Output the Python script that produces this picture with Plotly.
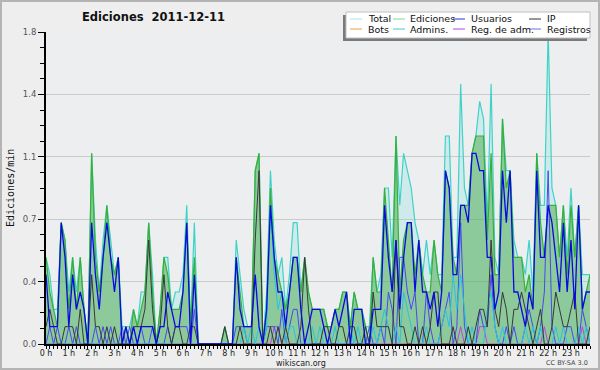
import plotly.graph_objects as go

# 10-minute buckets, counts of actions per bucket (chart shows per minute = count / 10)
minutes = list(range(0, 1440, 10))

usuarios = [4,1,1,1,7,5,1,4,2,3, 2,0,7,4,2,5,7,5,3,5, 0,1,0,1,0,1,1,1,1,0,
            1,1,3,2,1,1,3,7,0,4, 0,0,0,0,0,0,0,0,0,0, 5,2,1,1,1,4,1,0,2,8,
            5,3,3,1,3,5,5,2,0,1, 2,2,2,1,0,1,2,1,2,3, 0,2,2,2,0,0,2,2,2,8,
            5,3,6,2,5,7,7,3,6,3, 3,2,3,1,3,10,9,4,4,8, 8,7,11,11,10,10,5,5,2,3,
            10,7,10,3,3,2,1,3,2,10, 5,5,8,7,5,3,7,3,6,2, 8,2,3,3]
ip = [1,2,1,0,0,1,1,1,0,2, 0,0,4,1,1,0,1,0,1,0, 0,0,0,1,1,1,2,6,2,0,
      1,4,1,0,1,1,0,0,1,1, 0,0,0,0,0,0,0,1,0,0, 0,1,0,0,0,6,10,0,0,1,
      0,1,0,1,0,0,0,1,5,2, 0,0,0,1,1,0,0,1,1,0, 1,1,0,0,1,0,3,1,1,1,
      1,0,6,1,1,0,0,1,0,1, 0,1,3,3,0,0,0,1,0,0, 0,1,0,1,2,2,1,6,2,1,
      3,2,0,2,2,3,2,1,0,1, 2,0,0,1,3,2,1,1,2,3, 0,0,0,1]
ediciones = [5,3,2,1,7,6,2,5,2,5, 2,0,11,5,3,5,8,5,4,5, 0,1,0,2,1,2,3,7,3,0,
             2,5,4,2,2,2,3,7,1,5, 0,0,0,0,0,0,0,1,0,0, 5,3,1,1,1,10,11,0,2,9,
             5,4,3,2,3,5,5,3,5,3, 2,2,2,2,1,1,2,2,3,3, 1,3,2,2,1,0,5,3,3,9,
             6,3,12,3,6,7,7,4,6,4, 3,3,6,4,3,10,9,5,4,8, 8,8,11,12,12,12,6,11,4,4,
             13,9,10,5,5,5,3,4,2,11, 7,5,8,8,8,5,8,4,8,5, 8,2,3,4]
registros = [0,1,0,1,0,0,1,0,1,0, 0,0,0,1,0,1,0,1,0,0, 1,0,1,0,0,1,0,0,1,0,
             0,0,1,0,1,1,1,1,0,2, 0,0,0,0,0,0,0,0,0,0, 1,1,1,0,0,0,0,0,1,1,
             1,0,2,0,1,2,2,0,0,0, 0,0,0,0,0,0,0,0,0,0, 0,0,0,0,0,1,0,0,1,0,
             3,2,0,5,5,3,2,3,0,0, 3,1,0,0,1,2,3,0,1,7, 1,0,0,0,2,1,1,4,1,0,
             0,1,0,1,0,0,1,2,1,0, 1,3,10,1,0,0,0,1,1,0, 0,2,1,0]
total = [5,4,2,2,7,6,3,5,3,5, 2,0,11,6,3,6,8,6,4,5, 1,1,1,2,1,3,3,7,4,0,
         2,5,5,2,3,3,4,8,1,7, 0,0,0,0,0,0,0,1,0,0, 6,4,2,1,1,10,11,0,3,10,
         6,4,5,2,4,7,7,3,5,3, 2,2,2,2,1,1,2,2,3,3, 1,3,2,2,1,1,5,3,4,9,
         9,5,12,8,11,10,9,7,6,4, 6,4,6,4,4,12,12,5,5,15, 9,8,11,12,14,13,7,15,5,4,
         13,10,10,6,5,5,4,6,3,11, 8,8,18,9,8,5,8,5,9,5, 8,4,4,4]
admins = [0,0,0,0,0,0,0,0,0,0, 0,0,0,0,0,0,0,0,0,0, 0,0,0,0,0,0,0,0,0,0,
          0,0,0,0,0,0,0,0,0,0, 0,0,0,0,0,0,0,0,0,0, 0,0,1,0,1,0,1,0,1,8,
          4,2,3,0,1,1,0,0,0,0, 1,0,1,0,0,0,1,0,0,0, 1,0,1,0,0,0,1,0,1,2,
          1,0,1,0,3,2,1,0,0,0, 1,0,0,0,1,2,1,4,2,4, 2,0,1,0,0,0,2,3,1,0,
          1,0,0,0,0,0,1,0,1,0, 1,0,0,0,1,0,1,0,0,0, 1,0,1,0]
reg_adm = [0]*60 + [1,1] + [0]*47 + [1,0,0,0,0,1,1] + [0]*15 + [1] + [0]*9 + [1,0,0]
bots = [0]*144

hour_labels = [f"{h} h" for h in range(24)]
y_tickvals = [0, 0.36, 0.72, 1.08, 1.44, 1.8]
y_ticktext = ["0.0", "0.4", "0.7", "1.1", "1.4", "1.8"]

def per_min(v):
    return [c / 10 for c in v]

fig = go.Figure()
fig.add_trace(go.Scatter(x=minutes, y=per_min(total), mode="lines", fill="tozeroy",
                         fillcolor="rgba(120,225,215,0.25)",
                         line=dict(color="#3fd3c8", width=1.2), name="Total"))
fig.add_trace(go.Scatter(x=minutes, y=per_min(ediciones), mode="lines", fill="tozeroy",
                         fillcolor="rgba(60,165,60,0.45)",
                         line=dict(color="#38b038", width=1.2), name="Ediciones"))
fig.add_trace(go.Scatter(x=minutes, y=per_min(bots), mode="lines",
                         line=dict(color="#f0a040", width=1), name="Bots"))
fig.add_trace(go.Scatter(x=minutes, y=per_min(reg_adm), mode="lines",
                         line=dict(color="#c040e0", width=1), name="Reg. de adm."))
fig.add_trace(go.Scatter(x=minutes, y=per_min(registros), mode="lines",
                         line=dict(color="#4848f0", width=1), name="Registros"))
fig.add_trace(go.Scatter(x=minutes, y=per_min(admins), mode="lines",
                         line=dict(color="#28c4e0", width=1), name="Admins."))
fig.add_trace(go.Scatter(x=minutes, y=per_min(ip), mode="lines",
                         line=dict(color="#383838", width=1), name="IP"))
fig.add_trace(go.Scatter(x=minutes, y=per_min(usuarios), mode="lines",
                         line=dict(color="#0a0ae0", width=1.3), name="Usuarios"))

L, R, T, B = 46, 10, 32, 26
PW, PH = 600 - L - R, 370 - T - B

def px(x):
    return (x - L) / PW

def py(y):
    return (370 - B - y) / PH

shapes = []
annotations = []
# outer border
shapes.append(dict(type="rect", xref="paper", yref="paper", x0=px(1), x1=px(599), y0=py(369), y1=py(1),
                   line=dict(color="#b4b4b4", width=2), layer="below"))
# legend shadow and box
shapes.append(dict(type="rect", xref="paper", yref="paper", x0=px(343), x1=px(587), y0=py(41), y1=py(15),
                   line=dict(width=0), fillcolor="#7a7a7a"))
shapes.append(dict(type="rect", xref="paper", yref="paper", x0=px(346), x1=px(590), y0=py(38), y1=py(12),
                   line=dict(color="#c0c0c0", width=1), fillcolor="#ffffff"))

legend_items = [
    ("Total", "#a8e4e0", 350, 366, 19), ("Ediciones", "#8cd48c", 393, 408, 19),
    ("Usuarios", "#3030e0", 453, 469, 19), ("IP", "#303030", 529, 545, 19),
    ("Bots", "#f0a040", 350, 366, 29), ("Admins.", "#40c8e0", 393, 408, 29),
    ("Reg. de adm.", "#c040e0", 453, 469, 29), ("Registros", "#7070f0", 529, 545, 29),
]
for name, col, lx, tx, ly in legend_items:
    shapes.append(dict(type="line", xref="paper", yref="paper", x0=px(lx), x1=px(lx + 12),
                       y0=py(ly), y1=py(ly), line=dict(color=col, width=1)))
    annotations.append(dict(text=name, xref="paper", yref="paper", x=px(tx), y=py(ly),
                            xanchor="left", yanchor="middle", showarrow=False,
                            font=dict(family="DejaVu Sans", size=9.5, color="#111")))

annotations.append(dict(text="<b>Ediciones  2011-12-11</b>", xref="paper", yref="paper",
                        x=px(153), y=py(17), xanchor="center", yanchor="middle", showarrow=False,
                        font=dict(family="DejaVu Sans", size=11.5, color="#111")))
annotations.append(dict(text="Ediciones/min", xref="paper", yref="paper", x=px(10), y=py(188),
                        xanchor="center", yanchor="middle", textangle=-90, showarrow=False,
                        font=dict(family="DejaVu Sans Mono", size=10, color="#111")))
annotations.append(dict(text="wikiscan.org", xref="paper", yref="paper", x=px(301), y=py(369),
                        xanchor="center", yanchor="bottom", showarrow=False, borderpad=0,
                        font=dict(family="DejaVu Sans", size=8, color="#222")))
annotations.append(dict(text="CC BY-SA 3.0", xref="paper", yref="paper", x=px(589), y=py(368),
                        xanchor="right", yanchor="bottom", showarrow=False, borderpad=0,
                        font=dict(family="DejaVu Sans", size=6.5, color="#444")))

fig.update_layout(
    width=600, height=370, margin=dict(l=L, r=R, t=T, b=B),
    paper_bgcolor="#eeeeee", plot_bgcolor="#eceef0",
    showlegend=False, shapes=shapes, annotations=annotations,
    xaxis=dict(range=[0, 1430], tickmode="array", tickvals=list(range(0, 1440, 60)),
               ticktext=hour_labels, ticks="outside", ticklen=3, tickcolor="#000", tickwidth=1,
               showline=True, linecolor="#000", linewidth=2, showgrid=False, zeroline=False,
               ticklabelstandoff=-3,
               tickfont=dict(family="DejaVu Sans", size=8, color="#222"),
               minor=dict(dtick=10, tick0=0, ticks="outside", ticklen=3, tickcolor="#000", showgrid=False)),
    yaxis=dict(range=[0, 1.8], tickmode="array", tickvals=y_tickvals, ticktext=y_ticktext,
               ticks="outside", ticklen=6, tickcolor="#000", tickwidth=1,
               showline=True, linecolor="#000", linewidth=2, showgrid=True, gridcolor="#cacaca",
               gridwidth=1, zeroline=False,
               tickfont=dict(family="DejaVu Sans", size=8.5, color="#555"),
               minor=dict(tickmode="array", tickvals=[round(0.09 * k, 2) for k in range(21)],
                          ticks="outside", ticklen=4, tickcolor="#000", showgrid=False)),
)

fig.write_html("out.html", config={"displayModeBar": False},
               post_script="document.body.style.margin='0';document.body.style.overflow='hidden';")
